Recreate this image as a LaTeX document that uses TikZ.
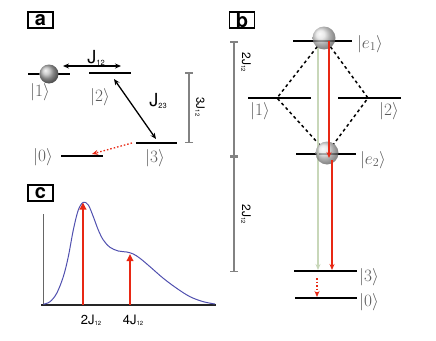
\documentclass[tikz,border=0pt]{standalone}
\usepackage{fontspec}
\setsansfont{TeX Gyre Heros}
\usetikzlibrary{arrows.meta,shadings}
\definecolor{myred}{RGB}{232,40,20}
\definecolor{mygreen}{RGB}{200,215,185}
\definecolor{myblue}{RGB}{80,80,175}
\definecolor{bargray}{RGB}{130,130,130}
\newcommand\Jtxt[4]{{\sffamily\fontsize{#1}{#1}\selectfont #2J\raisebox{-0.08em}{\fontsize{#3}{#3}\selectfont #4}}}
\newcommand\myket[1]{{\fontsize{18}{18}\selectfont$|#1\rangle$}}
\begin{document}
\begin{tikzpicture}[x=1pt,y=-1pt,
  level/.style={line width=1.5pt},
  ketlab/.style={text=black!65, inner sep=0pt},
  panel/.style={draw, line width=1.2pt, minimum width=25pt, minimum height=16pt, inner sep=0pt, font=\sffamily\bfseries\fontsize{20}{20}\selectfont},
  bracket/.style={draw=bargray, line width=1.5pt, {Bar[width=8pt]}-{Bar[width=8pt]}},
  jarrow/.style={line width=1.3pt, {Stealth[length=6pt,width=5pt]}-{Stealth[length=6pt,width=5pt]}},
  redarrow/.style={draw=myred, line width=1.3pt, -{Stealth[length=6pt,width=5pt]}},
  reddot/.style={draw=myred, line width=1.3pt, dash pattern=on 1.5pt off 2pt, -{Stealth[length=6pt,width=5pt]}},
  greenarrow/.style={draw=mygreen, line width=1.3pt, -{Stealth[length=6pt,width=5pt]}},
  bigred/.style={draw=myred, line width=1.7pt, -{Triangle[length=7pt,width=6.5pt]}},
  ballA/.style={circle, minimum size=19pt, inner sep=0pt, shading=ball, ball color=gray!55},
  ballB/.style={circle, minimum size=23pt, inner sep=0pt, shading=ball, ball color=gray!30, opacity=0.75},
  jlab/.style={inner sep=0pt}
]
\useasboundingbox (0,0) rectangle (436,340);

% ---------------- panel a ----------------
\node[panel] (pa) at (40.5,20) {a};
\draw[level] (28,74) -- (70,74);
\draw[level] (89,73) -- (131,73);
\draw[level] (136,143) -- (177,143);
\draw[level] (61,156) -- (103,156);
\node[ballA] (s1) at (49,74) {};
\node[ketlab] (k1) at (40,92) {\myket{1}};
\node[ketlab] (k2) at (100,97) {\myket{2}};
\node[ketlab] (k3) at (155,158) {\myket{3}};
\node[ketlab] (k0) at (43,157) {\myket{0}};
\coordinate (j12a) at (63,66);
\coordinate (j12b) at (121,66);
\draw[jarrow] (j12a) -- (j12b);
\node[jlab] (lj12) at (96,58) {\Jtxt{18}{}{7.5}{12}};
\coordinate (j23a) at (114,79);
\coordinate (j23b) at (156,139);
\draw[jarrow] (j23a) -- (j23b);
\node[jlab] (lj23) at (158,101) {\Jtxt{18}{}{7.5}{23}};
\coordinate (da) at (132,143);
\coordinate (db) at (92,154);
\draw[reddot] (da) -- (db);
\coordinate (ba1) at (189,72);
\coordinate (ba2) at (189,143);
\draw[bracket] (ba1) -- (ba2);
\node[jlab, rotate=-90] (l3j) at (200,107) {\Jtxt{11.5}{3}{6}{12}};

% ---------------- panel b ----------------
\node[panel] (pb) at (242,20) {b};
\coordinate (bb1) at (234,41);
\coordinate (bb2) at (234,272);
\draw[bracket] (bb1) -- (bb2);
\draw[bargray, line width=3pt] (230,156) -- (238,156);
\node[jlab, rotate=-90] (l2ja) at (246,62) {\Jtxt{12}{2}{6}{12}};
\node[jlab, rotate=-90] (l2jb) at (246,214) {\Jtxt{12}{2}{6}{12}};

\coordinate (e1c) at (324,38);
\coordinate (e2c) at (327,153);
\coordinate (Lb) at (277,98);
\coordinate (Rb) at (368,98);
\draw[line width=1.5pt, dash pattern=on 3pt off 3pt, shorten <=11pt, shorten >=11pt] (e1c) -- (Lb) -- (e2c);
\draw[line width=1.5pt, dash pattern=on 3pt off 3pt, shorten <=11pt, shorten >=11pt] (e1c) -- (Rb) -- (e2c);

\draw[level] (293,41) -- (352,41);
\draw[level] (248,98) -- (311,98);
\draw[level] (338,98) -- (401,98);
\draw[level] (296,154) -- (356,154);
\draw[level] (294,271) -- (357,271);
\draw[level] (295,298) -- (357,298);

\coordinate (g1) at (318,48);
\coordinate (g2) at (318,270);
\draw[greenarrow] (g1) -- (g2);
\coordinate (r1) at (329,41);
\coordinate (r2) at (329,158);
\coordinate (r3) at (332,160);
\coordinate (r4) at (332,270);
\node[ballB] (s2) at (e1c) {};
\node[ballB] (s3) at (e2c) {};
\draw[redarrow] (r1) -- (r2);
\draw[redarrow] (r3) -- (r4);
\coordinate (d1) at (317,278);
\coordinate (d2) at (317,297);
\draw[reddot] (d1) -- (d2);

\node[ketlab] (ke1) at (370,44) {\myket{e_1}};
\node[ketlab] (kb1) at (260,111) {\myket{1}};
\node[ketlab] (kb2) at (389,111) {\myket{2}};
\node[ketlab] (ke2) at (373,160) {\myket{e_2}};
\node[ketlab] (kb3) at (369,277) {\myket{3}};
\node[ketlab] (kb0) at (369,302) {\myket{0}};

% ---------------- panel c ----------------
\node[panel] (pc) at (40.5,193) {c};
\draw[black!60, line width=1.5pt] (43.3,214) -- (43.3,305);
\draw[black!85, line width=1.5pt] (41,305) -- (216,305);
\draw[myblue, line width=1pt] plot[smooth, tension=0.55] coordinates {
 (43.3,304.3) (50,301.7) (56.7,293.3) (63.3,276.7) (68.3,256.7) (73.3,230)
 (78.3,210) (83.3,202.3) (88.3,205) (93.3,216.7) (98.3,230) (103.3,240)
 (110,247.3) (118.3,251) (126.7,252) (133.3,254) (140,258.3) (150,266.7)
 (163.3,278.3) (176.7,288.3) (190,296.7) (203.3,301.7) (215,304)};
\coordinate (c1a) at (83,305);
\coordinate (c1b) at (83,202.5);
\coordinate (c2a) at (130,305);
\coordinate (c2b) at (130,254);
\draw[bigred] (c1a) -- (c1b);
\draw[bigred] (c2a) -- (c2b);
\node[jlab] (lc1) at (91,320) {\Jtxt{13}{2}{6}{12}};
\node[jlab] (lc2) at (133,320) {\Jtxt{13}{4}{6}{12}};
\end{tikzpicture}
\end{document}
